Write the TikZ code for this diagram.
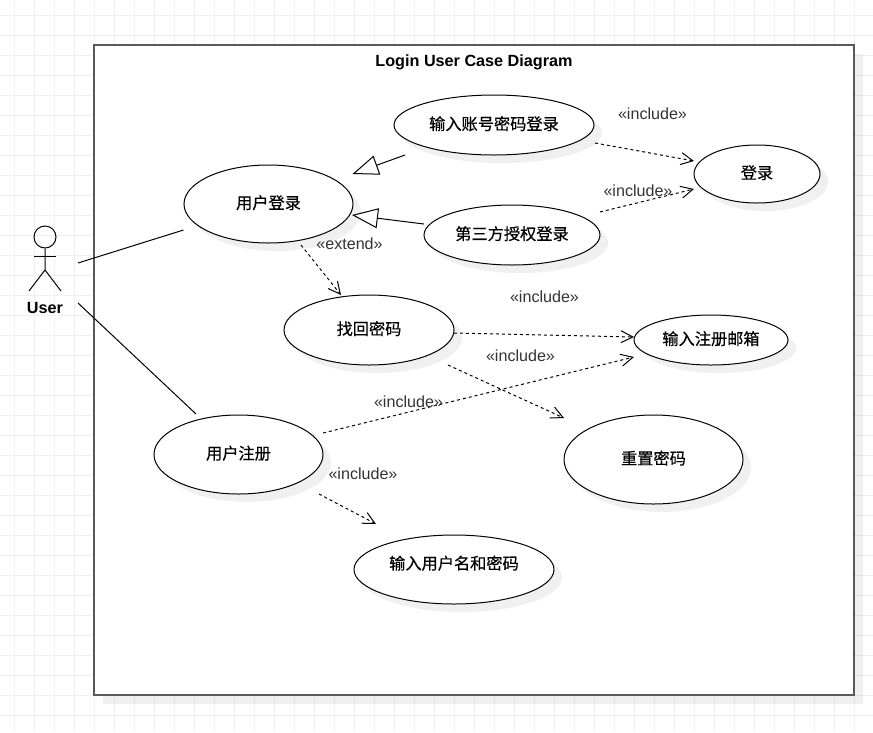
\documentclass[tikz,border=0pt]{standalone}
\usepackage{fontspec}
\setmainfont{Liberation Sans}
\newfontfamily\cjk[FakeBold=0.5]{Noto Sans CJK SC}
\usetikzlibrary{arrows.meta}
\usetikzlibrary{shapes.geometric}
\newcommand{\caselabel}[2][4pt]{\raisebox{#1}{#2}}
\tikzset{
    softshadow/.style={black, opacity=0.06},
    caseshadow/.style={black!6},
    usecase/.style={ellipse, draw=black, fill=white, line width=1pt, inner sep=0pt,
        font=\cjk\fontsize{16.2}{19}\selectfont},
    tag/.style={text=black!80, inner sep=0pt, font=\fontsize{16.1}{19}\selectfont},
    heading/.style={inner sep=0pt, font=\bfseries\fontsize{16.2}{19}\selectfont},
    assoc/.style={line width=1pt, black},
    dep/.style={line width=1pt, black, dashed, -{Straight Barb[length=12pt, width=12pt]}},
    gen/.style={line width=1pt, black, -{Triangle[open, fill=white, length=26pt, width=20pt]}}
}

\begin{document}
\begin{tikzpicture}[x=1pt, y=-1pt]
        \useasboundingbox (0,0) rectangle (873,732);
        \fill[white] (0,0) rectangle (873,732);
        \foreach \gx in {14.5,34.5,...,860} {
            \draw[black!6, line width=1pt] (\gx,0) -- (\gx,732);
        }
        \foreach \gy in {15,35,...,730} {
            \draw[black!6, line width=1pt] (0,\gy) -- (873,\gy);
        }

        \fill[softshadow] (103,54) rectangle (863,704);
        \node[rectangle, draw=black!65, fill=white, line width=2pt, minimum width=760pt, minimum height=650pt] (frame) at (474,370) {};
        \node[heading] (title) at (474,62) {Login User Case Diagram};

        \node[circle, draw=black, line width=1pt, minimum size=22pt, inner sep=0pt] (head) at (45,237) {};
        \coordinate (neck) at (45,248);
        \coordinate (hip) at (45,270);
        \coordinate (armL) at (34,256);
        \coordinate (armR) at (56,256);
        \coordinate (legL) at (29,291);
        \coordinate (legR) at (61,291);
        \draw[assoc] (head.south)--(hip)--(legL);
        \draw[assoc] (hip)--(legR);
        \draw[assoc] (armL)--(armR);
        \node[heading] (user) at (45,308) {User};

        \fill[caseshadow] (276.5,212) ellipse [x radius=84.5, y radius=39];
        \fill[caseshadow] (502,133) ellipse [x radius=100, y radius=30];
        \fill[caseshadow] (765,182) ellipse [x radius=63, y radius=29];
        \fill[caseshadow] (520,243) ellipse [x radius=88, y radius=30];
        \fill[caseshadow] (377,338) ellipse [x radius=85, y radius=35];
        \fill[caseshadow] (719,348) ellipse [x radius=77, y radius=25];
        \fill[caseshadow] (246.5,462.5) ellipse [x radius=84.5, y radius=39.5];
        \fill[caseshadow] (661.5,467.5) ellipse [x radius=89.5, y radius=44.5];
        \fill[caseshadow] (462,577.5) ellipse [x radius=100, y radius=34.5];

        \node[usecase, minimum width=169pt, minimum height=78pt] (login) at (268.5,204) {\caselabel{用户登录}};
        \node[usecase, minimum width=200pt, minimum height=60pt] (account) at (494,125) {\caselabel{输入账号密码登录}};
        \node[usecase, minimum width=126pt, minimum height=58pt] (signin) at (757,174) {\caselabel{登录}};
        \node[usecase, minimum width=176pt, minimum height=60pt] (third) at (512,235) {\caselabel{第三方授权登录}};
        \node[usecase, minimum width=170pt, minimum height=70pt] (recover) at (369,330) {\caselabel{找回密码}};
        \node[usecase, minimum width=154pt, minimum height=50pt] (email) at (711,340) {\caselabel{输入注册邮箱}};
        \node[usecase, minimum width=169pt, minimum height=79pt] (register) at (238.5,454.5) {\caselabel{用户注册}};
        \node[usecase, minimum width=179pt, minimum height=89pt] (reset) at (653.5,459.5) {\caselabel{重置密码}};
        \node[usecase, minimum width=200pt, minimum height=69pt] (credentials) at (454,569.5) {\caselabel[14pt]{输入用户名和密码}};

        \coordinate (U1) at (78,263);
        \coordinate (U2) at (78,303);
        \coordinate (L1) at (183.5,230);
        \coordinate (R1) at (196,414);
        \coordinate (A1) at (405,155);
        \coordinate (L2) at (352.5,174);
        \coordinate (T1) at (424,224);
        \coordinate (L3) at (352,215);
        \coordinate (L4) at (301,245);
        \coordinate (F1) at (341,295);
        \coordinate (A2) at (595,143);
        \coordinate (S1) at (694,161);
        \coordinate (T2) at (600,212);
        \coordinate (S2) at (694,189);
        \coordinate (F2) at (454,333);
        \coordinate (E1) at (634,337);
        \coordinate (F3) at (448,365);
        \coordinate (P1) at (564,418);
        \coordinate (R2) at (323,433);
        \coordinate (E2) at (634,357);
        \coordinate (R3) at (319,494);
        \coordinate (C1) at (376,524);

        \draw[assoc] (U1)--(L1);
        \draw[assoc] (U2)--(R1);
        \draw[gen] (A1)--(L2);
        \draw[gen] (T1)--(L3);
        \draw[dep] (L4)--(F1);
        \draw[dep] (A2)--(S1);
        \draw[dep] (T2)--(S2);
        \draw[dep] (F2)--(E1);
        \draw[dep] (F3)--(P1);
        \draw[dep] (R2)--(E2);
        \draw[dep] (R3)--(C1);

        \node[tag] (extendtag) at (349.5,244) {«extend»};
        \node[tag] (tagA) at (652.5,114) {«include»};
        \node[tag] (tagB) at (638,191) {«include»};
        \node[tag] (tagC) at (544.5,297) {«include»};
        \node[tag] (tagD) at (520.5,356) {«include»};
        \node[tag] (tagE) at (408.5,402) {«include»};
        \node[tag] (tagF) at (363,474) {«include»};
    \end{tikzpicture}
\end{document}
